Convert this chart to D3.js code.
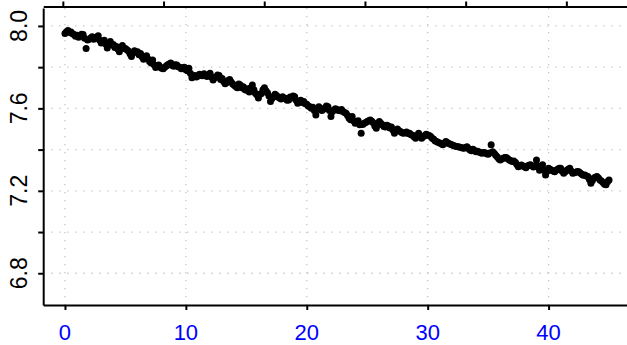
<!DOCTYPE html>
<html>
<head>
<meta charset="utf-8">
<script src="https://cdn.jsdelivr.net/npm/d3@7"></script>
<style>
  html, body { margin: 0; padding: 0; background: #fff; }
  svg { display: block; font-family: "Liberation Sans", Arial, sans-serif; }
</style>
</head>
<body>
<svg id="chart" width="627" height="345"></svg>
<script>
// Sample times (x), eight readings per unit
const times = [
  0,0.125,0.25,0.375,0.5,0.625,0.75,0.875, 1,1.125,1.25,1.375,1.5,1.625,1.75,1.875,
  2,2.125,2.25,2.375,2.5,2.625,2.75,2.875, 3,3.125,3.25,3.375,3.5,3.625,3.75,3.875,
  4,4.125,4.25,4.375,4.5,4.625,4.75,4.875, 5,5.125,5.25,5.375,5.5,5.625,5.75,5.875,
  6,6.125,6.25,6.375,6.5,6.625,6.75,6.875, 7,7.125,7.25,7.375,7.5,7.625,7.75,7.875,
  8,8.125,8.25,8.375,8.5,8.625,8.75,8.875, 9,9.125,9.25,9.375,9.5,9.625,9.75,9.875,
  10,10.125,10.25,10.375,10.5,10.625,10.75,10.875, 11,11.125,11.25,11.375,11.5,11.625,11.75,11.875,
  12,12.125,12.25,12.375,12.5,12.625,12.75,12.875, 13,13.125,13.25,13.375,13.5,13.625,13.75,13.875,
  14,14.125,14.25,14.375,14.5,14.625,14.75,14.875, 15,15.125,15.25,15.375,15.5,15.625,15.75,15.875,
  16,16.125,16.25,16.375,16.5,16.625,16.75,16.875, 17,17.125,17.25,17.375,17.5,17.625,17.75,17.875,
  18,18.125,18.25,18.375,18.5,18.625,18.75,18.875, 19,19.125,19.25,19.375,19.5,19.625,19.75,19.875,
  20,20.125,20.25,20.375,20.5,20.625,20.75,20.875, 21,21.125,21.25,21.375,21.5,21.625,21.75,21.875,
  22,22.125,22.25,22.375,22.5,22.625,22.75,22.875, 23,23.125,23.25,23.375,23.5,23.625,23.75,23.875,
  24,24.125,24.25,24.375,24.5,24.625,24.75,24.875, 25,25.125,25.25,25.375,25.5,25.625,25.75,25.875,
  26,26.125,26.25,26.375,26.5,26.625,26.75,26.875, 27,27.125,27.25,27.375,27.5,27.625,27.75,27.875,
  28,28.125,28.25,28.375,28.5,28.625,28.75,28.875, 29,29.125,29.25,29.375,29.5,29.625,29.75,29.875,
  30,30.125,30.25,30.375,30.5,30.625,30.75,30.875, 31,31.125,31.25,31.375,31.5,31.625,31.75,31.875,
  32,32.125,32.25,32.375,32.5,32.625,32.75,32.875, 33,33.125,33.25,33.375,33.5,33.625,33.75,33.875,
  34,34.125,34.25,34.375,34.5,34.625,34.75,34.875, 35,35.125,35.25,35.375,35.5,35.625,35.75,35.875,
  36,36.125,36.25,36.375,36.5,36.625,36.75,36.875, 37,37.125,37.25,37.375,37.5,37.625,37.75,37.875,
  38,38.125,38.25,38.375,38.5,38.625,38.75,38.875, 39,39.125,39.25,39.375,39.5,39.625,39.75,39.875,
  40,40.125,40.25,40.375,40.5,40.625,40.75,40.875, 41,41.125,41.25,41.375,41.5,41.625,41.75,41.875,
  42,42.125,42.25,42.375,42.5,42.625,42.75,42.875, 43,43.125,43.25,43.375,43.5,43.625,43.75,43.875,
  44,44.125,44.25,44.375,44.5,44.625,44.75,44.875, 45
];
// Measured values at each time
const values = [
  7.963,7.972,7.978,7.968,7.970,7.962,7.958,7.950, 7.955,7.945,7.950,7.960,7.958,7.940,7.890,7.932,
  7.935,7.942,7.948,7.935,7.940,7.946,7.952,7.930, 7.917,7.925,7.930,7.912,7.893,7.915,7.924,7.908,
  7.910,7.895,7.900,7.888,7.875,7.895,7.905,7.890, 7.890,7.885,7.878,7.865,7.852,7.870,7.880,7.872,
  7.875,7.860,7.866,7.850,7.838,7.848,7.855,7.840, 7.827,7.820,7.835,7.812,7.798,7.805,7.810,7.800,
  7.795,7.792,7.800,7.806,7.812,7.815,7.820,7.808, 7.804,7.812,7.810,7.802,7.800,7.792,7.796,7.800,
  7.787,7.782,7.795,7.770,7.748,7.755,7.760,7.752, 7.757,7.765,7.762,7.758,7.768,7.760,7.755,7.762,
  7.770,7.752,7.738,7.748,7.752,7.762,7.760,7.740, 7.745,7.730,7.720,7.725,7.735,7.740,7.728,7.718,
  7.712,7.706,7.700,7.718,7.714,7.700,7.705,7.692, 7.688,7.695,7.680,7.700,7.714,7.690,7.673,7.665,
  7.650,7.668,7.672,7.690,7.700,7.685,7.676,7.660, 7.633,7.648,7.657,7.668,7.662,7.655,7.650,7.645,
  7.657,7.650,7.648,7.640,7.641,7.655,7.650,7.660, 7.657,7.640,7.625,7.632,7.640,7.628,7.633,7.622,
  7.620,7.612,7.608,7.600,7.605,7.590,7.568,7.595, 7.608,7.600,7.590,7.596,7.600,7.612,7.608,7.590,
  7.560,7.585,7.592,7.598,7.595,7.590,7.588,7.594, 7.585,7.580,7.576,7.565,7.552,7.545,7.560,7.540,
  7.528,7.535,7.540,7.520,7.479,7.522,7.528,7.532, 7.536,7.540,7.544,7.538,7.530,7.515,7.504,7.520,
  7.536,7.528,7.520,7.512,7.510,7.518,7.515,7.505, 7.510,7.495,7.479,7.490,7.500,7.492,7.488,7.482,
  7.479,7.482,7.485,7.478,7.479,7.472,7.470,7.462, 7.455,7.468,7.479,7.466,7.455,7.462,7.468,7.474,
  7.471,7.468,7.463,7.455,7.450,7.442,7.439,7.435, 7.432,7.428,7.423,7.430,7.439,7.434,7.430,7.426,
  7.423,7.420,7.418,7.415,7.414,7.412,7.410,7.408, 7.406,7.410,7.414,7.405,7.398,7.395,7.402,7.396,
  7.390,7.392,7.388,7.385,7.382,7.386,7.385,7.380, 7.378,7.384,7.423,7.390,7.382,7.372,7.365,7.356,
  7.350,7.354,7.358,7.362,7.362,7.356,7.350,7.346, 7.342,7.345,7.338,7.328,7.317,7.322,7.325,7.320,
  7.317,7.312,7.320,7.324,7.326,7.322,7.315,7.318, 7.350,7.320,7.300,7.312,7.326,7.300,7.277,7.295,
  7.309,7.305,7.300,7.296,7.293,7.300,7.305,7.310, 7.309,7.295,7.285,7.292,7.300,7.305,7.309,7.296,
  7.285,7.288,7.290,7.294,7.293,7.286,7.280,7.276, 7.277,7.272,7.269,7.255,7.237,7.250,7.262,7.266,
  7.269,7.262,7.253,7.248,7.240,7.232,7.229,7.244, 7.253
];

// Axis ticks and labels
const xTicks = [0, 10, 20, 30, 40];
const yTicks = [6.8, 7.0, 7.2, 7.4, 7.6, 7.8, 8.0];
const yLabels = [6.8, 7.2, 7.6, 8.0];
const topTicks = [0, 1, 2, 3, 4, 5];

const points = times.map((t, i) => ({ t, v: values[i] }));

const svg = d3.select("#chart");
const plot = { left: 43.2, right: 630.8, top: 8, bottom: 305 };

const x = d3.scaleLinear().domain([-1.8, 46.8]).range([plot.left, plot.right]);
const xTop = d3.scaleLinear().domain([-0.195, 5.64]).range([plot.left, plot.right]);
const y = d3.scaleLinear().domain([6.646, 8.087]).range([plot.bottom, plot.top]);

const gridColor = "#c4c4c4";

// dotted grid
const grid = svg.append("g");
grid.selectAll("line.h").data(yTicks).join("line")
  .attr("x1", plot.left).attr("x2", 627)
  .attr("y1", d => y(d)).attr("y2", d => y(d))
  .attr("stroke", gridColor).attr("stroke-width", 1.3)
  .attr("stroke-dasharray", "1.3,6.7");
grid.selectAll("line.v").data(xTicks).join("line")
  .attr("x1", d => x(d)).attr("x2", d => x(d))
  .attr("y1", plot.top).attr("y2", plot.bottom)
  .attr("stroke", gridColor).attr("stroke-width", 1.3)
  .attr("stroke-dasharray", "1.3,6.7");

// points
svg.append("g").selectAll("circle").data(points).join("circle")
  .attr("cx", d => x(d.t)).attr("cy", d => y(d.v))
  .attr("r", 3.5).attr("fill", "#000");

function styleAxis(g) {
  g.selectAll(".domain").attr("stroke", "#000").attr("stroke-width", 2);
  g.selectAll(".tick line").attr("stroke", "#000").attr("stroke-width", 2);
  g.selectAll(".tick text").remove();
}

// bottom axis
svg.append("g").attr("transform", `translate(0,${plot.bottom})`)
  .call(d3.axisBottom(x).tickValues(xTicks).tickSize(5).tickSizeOuter(0))
  .call(styleAxis);

svg.append("g").selectAll("text").data(xTicks).join("text")
  .attr("x", d => x(d)).attr("y", 340)
  .attr("text-anchor", "middle")
  .attr("font-size", 22).attr("fill", "#0000ff")
  .text(d => d);

// top axis
svg.append("g").attr("transform", "translate(0,6.5)")
  .call(d3.axisTop(xTop).tickValues(topTicks).tickSize(5).tickSizeOuter(0))
  .call(styleAxis);

// left axis
svg.append("g").attr("transform", `translate(${plot.left},0)`)
  .call(d3.axisLeft(y).tickValues(yTicks).tickSize(5).tickSizeOuter(0))
  .call(styleAxis);

svg.append("g").selectAll("text").data(yLabels).join("text")
  .attr("transform", d => `translate(26.5,${y(d)}) rotate(-90)`)
  .attr("text-anchor", "middle")
  .attr("font-size", 23).attr("fill", "#000")
  .text(d => d.toFixed(1));
</script>
</body>
</html>
